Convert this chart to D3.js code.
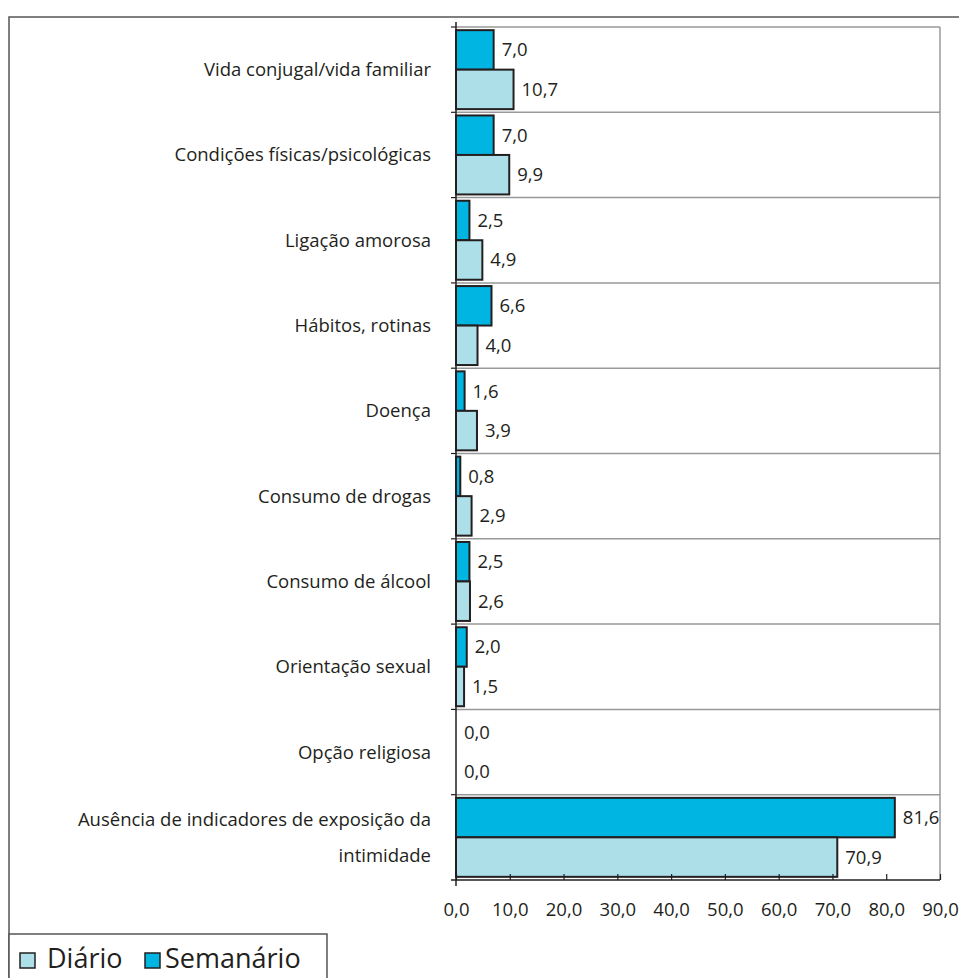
<!DOCTYPE html>
<html>
<head>
<meta charset="utf-8">
<script src="https://cdn.jsdelivr.net/npm/d3@7"></script>
<style>
  body { margin: 0; background: #fff; }
  svg text { font-family: "Open Sans", "Noto Sans", sans-serif; fill: #231f20; }
</style>
</head>
<body>
<script>
// data
const categories = [
    "Vida conjugal/vida familiar",
    "Condições físicas/psicológicas",
    "Ligação amorosa",
    "Hábitos, rotinas",
    "Doença",
    "Consumo de drogas",
    "Consumo de álcool",
    "Orientação sexual",
    "Opção religiosa",
    "Ausência de indicadores de exposição da|intimidade"
];
const semanario = [7.0, 7.0, 2.5, 6.6, 1.6, 0.8, 2.5, 2.0, 0.0, 81.6];
const diario = [10.7, 9.9, 4.9, 4.0, 3.9, 2.9, 2.6, 1.5, 0.0, 70.9];
const seriesNames = ["Semanário", "Diário"];
const seriesColors = ["#00b5e2", "#addfe8"];
const xTicks = [0, 10, 20, 30, 40, 50, 60, 70, 80, 90];

const w = 959, h = 978;
const plotLeft = 456, plotRight = 940, plotTop = 27, plotBottom = 880;

const fmt = v => v.toFixed(1).replace(".", ",");

const svg = d3.select("body").append("svg")
    .attr("width", w)
    .attr("height", h);

// outer frame (runs off the page on right/bottom)
svg.append("rect")
    .attr("x", 9).attr("y", 17)
    .attr("width", 1000).attr("height", 1000)
    .attr("fill", "none")
    .attr("stroke", "#555")
    .attr("stroke-width", 1.5);

const x = d3.scaleLinear().domain([0, 90]).range([plotLeft, plotRight]);
const y = d3.scaleBand().domain(categories).range([plotTop, plotBottom]);
const inner = d3.scaleBand().domain(seriesNames).range([0, y.bandwidth()]).paddingOuter(0.08).paddingInner(0);

// gray lines between categories + right edge
const bounds = categories.map(c => y(c));
svg.append("g")
    .selectAll("line")
    .data(bounds)
    .enter()
    .append("line")
        .attr("x1", plotLeft)
        .attr("x2", plotRight)
        .attr("y1", d => d)
        .attr("y2", d => d)
        .attr("stroke", "#999")
        .attr("stroke-width", 1.5);

// little ticks left of the axis
svg.append("g")
    .selectAll("line")
    .data(bounds)
    .enter()
    .append("line")
        .attr("x1", plotLeft - 5)
        .attr("x2", plotLeft)
        .attr("y1", d => d)
        .attr("y2", d => d)
        .attr("stroke", "#231f20")
        .attr("stroke-width", 1.2);

svg.append("line")
    .attr("x1", plotRight).attr("x2", plotRight)
    .attr("y1", plotTop).attr("y2", plotBottom)
    .attr("stroke", "#999").attr("stroke-width", 1.5);

// bars
const rows = categories.map((c, i) => ({ c, s: semanario[i], d: diario[i] }));
const bars = svg.append("g");
seriesNames.forEach((name, k) => {
    const key = k === 0 ? "s" : "d";
    bars.selectAll("rect.s" + k)
        .data(rows)
        .enter()
        .append("rect")
            .attr("class", "s" + k)
            .attr("x", x(0))
            .attr("y", d => y(d.c) + inner(name))
            .attr("width", d => x(d[key]) - x(0))
            .attr("height", inner.bandwidth())
            .attr("fill", seriesColors[k])
            .attr("stroke", d => d[key] > 0 ? "#231f20" : "none")
            .attr("stroke-width", 2);

    bars.selectAll("text.s" + k)
        .data(rows)
        .enter()
        .append("text")
            .attr("class", "s" + k)
            .attr("x", d => x(d[key]) + 8)
            .attr("y", d => y(d.c) + inner(name) + inner.bandwidth() / 2)
            .attr("dy", "0.35em")
            .style("font-size", "18.5px")
            .text(d => fmt(d[key]));
});

// category labels
const catLabels = svg.append("g");
categories.forEach(c => {
    const lines = c.split("|");
    const cy = y(c) + y.bandwidth() / 2;
    lines.forEach((ln, j) => {
        catLabels.append("text")
            .attr("x", 431)
            .attr("y", cy + (j - (lines.length - 1) / 2) * 36)
            .attr("dy", "0.35em")
            .attr("text-anchor", "end")
            .style("font-size", "18.5px")
            .text(ln);
    });
});

// x axis
const xAxis = svg.append("g")
    .attr("transform", `translate(0,${plotBottom})`)
    .call(d3.axisBottom(x).tickValues(xTicks).tickSize(6).tickFormat(fmt));
xAxis.select(".domain").attr("stroke", "#231f20").attr("stroke-width", 1.5)
    .attr("d", `M${plotLeft - 5},0H${plotRight}`);
xAxis.selectAll(".tick line").attr("stroke", "#231f20").attr("stroke-width", 1.2)
    .attr("y1", -6).attr("y2", 0);
xAxis.selectAll(".tick text")
    .attr("y", 30)
    .attr("dy", "0.35em")
    .style("font-size", "18.5px")
    .style("font-family", "'Open Sans', sans-serif")
    .attr("fill", "#231f20");

// y axis line
svg.append("line")
    .attr("x1", plotLeft).attr("x2", plotLeft)
    .attr("y1", plotTop - 5).attr("y2", plotBottom + 6)
    .attr("stroke", "#231f20").attr("stroke-width", 1.5);

// legend
const legend = svg.append("g").attr("id", "legend");
legend.append("rect")
    .attr("x", 9).attr("y", 934)
    .attr("width", 318).attr("height", 60)
    .attr("fill", "#fff")
    .attr("stroke", "#555")
    .attr("stroke-width", 1.5);

const legendItems = [
    { name: "Diário", color: seriesColors[1], x: 20 },
    { name: "Semanário", color: seriesColors[0], x: 145 }
];
legendItems.forEach(it => {
    legend.append("rect")
        .attr("x", it.x).attr("y", 953)
        .attr("width", 15).attr("height", 15)
        .attr("fill", it.color)
        .attr("stroke", "#231f20")
        .attr("stroke-width", 1.5);
    legend.append("text")
        .attr("x", it.x + (it.x === 20 ? 27 : 20))
        .attr("y", 968)
        .style("font-size", "27px")
        .text(it.name);
});
</script>
</body>
</html>
